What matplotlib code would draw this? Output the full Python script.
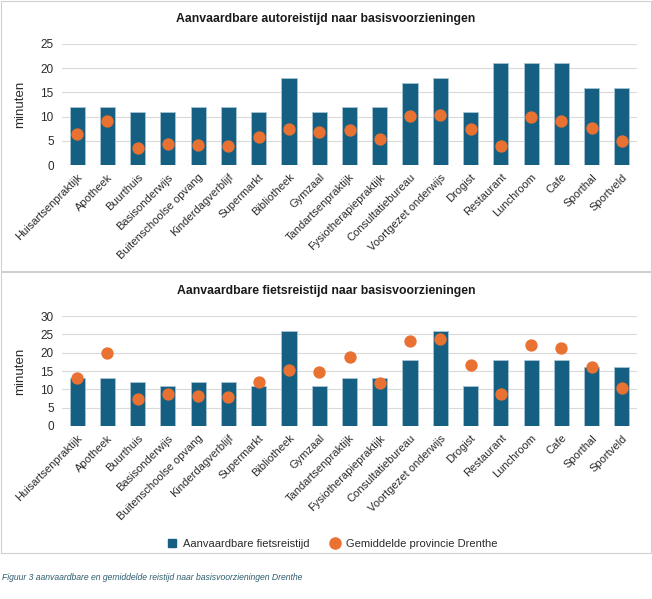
import matplotlib.pyplot as plt
from matplotlib.patches import Rectangle
from matplotlib.lines import Line2D

plt.rcParams['font.family'] = ['Liberation Sans', 'DejaVu Sans']

categories = ['Huisartsenpraktijk', 'Apotheek', 'Buurthuis', 'Basisonderwijs',
              'Buitenschoolse opvang', 'Kinderdagverblijf', 'Supermarkt', 'Bibliotheek',
              'Gymzaal', 'Tandartsenpraktijk', 'Fysiotherapiepraktijk', 'Consultatiebureau',
              'Voortgezet onderwijs', 'Drogist', 'Restaurant', 'Lunchroom', 'Cafe',
              'Sporthal', 'Sportveld']

auto_acceptabel = [12, 12, 11, 11, 12, 12, 11, 18, 11, 12, 12, 17, 18, 11, 21, 21, 21, 16, 16]
auto_drenthe = [6.4, 9.1, 3.6, 4.3, 4.1, 3.9, 5.7, 7.5, 6.8, 7.2, 5.3, 10.2, 10.4, 7.5, 3.9, 9.9, 9.0, 7.7, 4.9]

fiets_acceptabel = [13, 13, 12, 11, 12, 12, 11, 26, 11, 13, 13, 18, 26, 11, 18, 18, 18, 16, 16]
fiets_drenthe = [13.2, 20.0, 7.3, 8.8, 8.3, 8.0, 12.0, 15.3, 14.7, 18.8, 11.7, 23.1, 23.6, 16.6, 8.8, 22.2, 21.3, 16.1, 10.3]

blue = '#156082'
orange = '#E97132'
grid = '#D9D9D9'
text_col = '#2b2b2b'

fig = plt.figure(figsize=(6.52, 5.99), dpi=100)
fig.patch.set_facecolor('white')

# panel frames
for y0, y1 in [(1, 271), (272, 553)]:
    fig.patches.append(Rectangle((1 / 652, 1 - y1 / 599), 650 / 652, (y1 - y0) / 599,
                                 transform=fig.transFigure, fill=False,
                                 edgecolor='#D0D0D0', lw=0.8))


def draw(ax, bars, dots, ymax, title, title_y):
    x = range(len(categories))
    ax.bar(x, bars, width=0.5, color=blue, edgecolor='#A9C4D3', lw=0.6, zorder=2)
    ax.scatter(x, dots, s=62, color=orange, zorder=3)
    ax.set_xlim(-0.5, len(categories) - 0.5)
    ax.set_ylim(0, ymax)
    ax.set_yticks(range(0, ymax + 1, 5))
    ax.yaxis.grid(True, color=grid, lw=0.8, zorder=0)
    ax.set_axisbelow(True)
    for s in ax.spines.values():
        s.set_visible(False)
    ax.tick_params(length=0, labelsize=8.5, colors=text_col)
    ax.set_xticks(list(x))
    ax.set_xticklabels(categories, rotation=45, ha='right', rotation_mode='anchor',
                       fontsize=8)
    ax.tick_params(axis='x', pad=5)
    ax.tick_params(axis='y', pad=6)
    ax.set_ylabel('minuten', fontsize=9.5, color=text_col, labelpad=10)
    fig.text(0.5, 1 - title_y / 599, title, ha='center', va='center',
             fontsize=8.8, fontweight='bold', color='#1a1a1a')


ax1 = fig.add_axes([62 / 652, 1 - 165 / 599, 575 / 652, 121 / 599])
draw(ax1, auto_acceptabel, auto_drenthe, 25,
     'Aanvaardbare autoreistijd naar basisvoorzieningen', 19)

ax2 = fig.add_axes([62 / 652, 1 - 426 / 599, 575 / 652, 110 / 599])
draw(ax2, fiets_acceptabel, fiets_drenthe, 30,
     'Aanvaardbare fietsreistijd naar basisvoorzieningen', 291)

handles = [Line2D([], [], marker='s', ls='none', color=blue, markersize=6),
           Line2D([], [], marker='o', ls='none', color=orange, markersize=8)]
fig.legend(handles, ['Aanvaardbare fietsreistijd', 'Gemiddelde provincie Drenthe'],
           loc='center', bbox_to_anchor=(0.505, 1 - 544 / 599), ncol=2, frameon=False,
           fontsize=8, handletextpad=0.0, columnspacing=1.3, labelcolor=text_col)

fig.text(2 / 652, 1 - 577 / 599,
         'Figuur 3 aanvaardbare en gemiddelde reistijd naar basisvoorzieningen Drenthe',
         fontsize=6.2, style='italic', color='#2E5E6E', va='center')

fig.savefig('out.png', dpi=100)
